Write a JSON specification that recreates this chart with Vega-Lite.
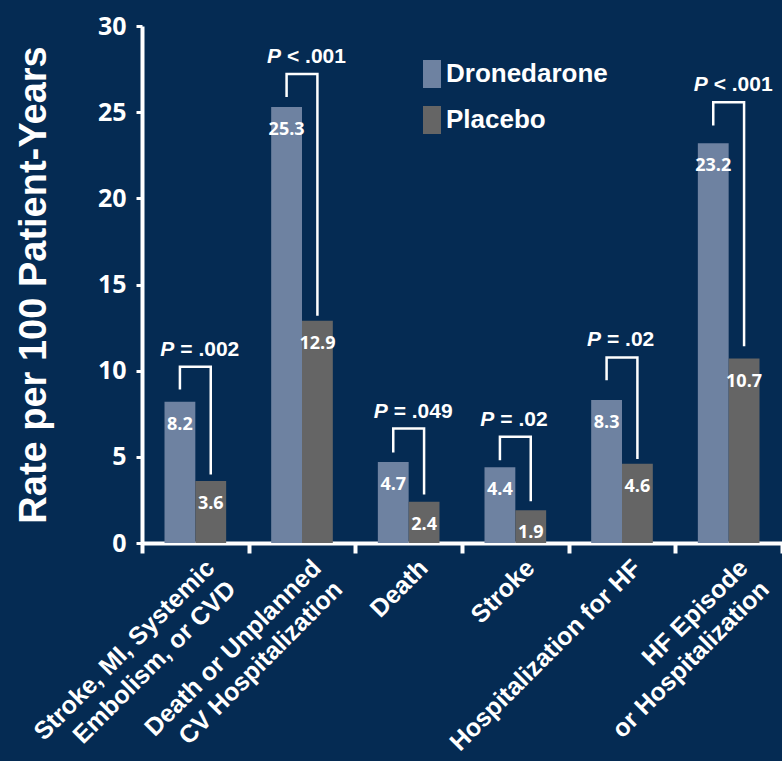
{
  "$schema": "https://vega.github.io/schema/vega-lite/v6.json",
  "width": 640,
  "height": 517,
  "autosize": "none",
  "padding": {"left": 142, "top": 26, "right": 0, "bottom": 218},
  "background": "#052B53",
  "config": {
    "view": {"stroke": null},
    "font": "Liberation Sans",
    "axisX": {
      "domainColor": "white", "domainWidth": 4,
      "tickColor": "white", "tickWidth": 4, "tickSize": 10,
      "labelAngle": -45, "labelAlign": "right", "labelBaseline": "top",
      "labelFont": "Liberation Sans", "labelFontSize": 25, "labelFontWeight": "bold",
      "labelColor": "white", "labelOffset": 6, "labelPadding": 2,
      "labelLimit": 500, "labelLineHeight": 30, "labelOverlap": false, "labelBound": false,
      "grid": false
    },
    "axisY": {
      "domainColor": "white", "domainWidth": 4,
      "tickColor": "white", "tickWidth": 3, "tickSize": 6,
      "labelFont": "Open Sans", "labelFontSize": 25, "labelFontWeight": "bold",
      "labelColor": "white", "labelPadding": 10,
      "titleFont": "Liberation Sans", "titleFontSize": 38, "titleFontWeight": "bold",
      "titleColor": "white", "titlePadding": 44,
      "grid": false
    }
  },
  "datasets": {
    "rates": [
      {"cat": "Stroke, MI, Systemic|Embolism, or CVD", "grp": "Dronedarone", "rate": 8.2},
      {"cat": "Stroke, MI, Systemic|Embolism, or CVD", "grp": "Placebo", "rate": 3.6},
      {"cat": "Death or Unplanned|CV Hospitalization", "grp": "Dronedarone", "rate": 25.3},
      {"cat": "Death or Unplanned|CV Hospitalization", "grp": "Placebo", "rate": 12.9},
      {"cat": "Death", "grp": "Dronedarone", "rate": 4.7},
      {"cat": "Death", "grp": "Placebo", "rate": 2.4},
      {"cat": "Stroke", "grp": "Dronedarone", "rate": 4.4},
      {"cat": "Stroke", "grp": "Placebo", "rate": 1.9},
      {"cat": "Hospitalization for HF", "grp": "Dronedarone", "rate": 8.3},
      {"cat": "Hospitalization for HF", "grp": "Placebo", "rate": 4.6},
      {"cat": "HF Episode|or Hospitalization", "grp": "Dronedarone", "rate": 23.2},
      {"cat": "HF Episode|or Hospitalization", "grp": "Placebo", "rate": 10.7}
    ],
    "brackets": [
      {"cat": "Stroke, MI, Systemic|Embolism, or CVD", "grp": "Dronedarone", "v": 8.9, "k": 0},
      {"cat": "Stroke, MI, Systemic|Embolism, or CVD", "grp": "Dronedarone", "v": 10.23, "k": 1},
      {"cat": "Stroke, MI, Systemic|Embolism, or CVD", "grp": "Placebo", "v": 10.23, "k": 2},
      {"cat": "Stroke, MI, Systemic|Embolism, or CVD", "grp": "Placebo", "v": 3.97, "k": 3},
      {"cat": "Death or Unplanned|CV Hospitalization", "grp": "Dronedarone", "v": 25.88, "k": 0},
      {"cat": "Death or Unplanned|CV Hospitalization", "grp": "Dronedarone", "v": 27.22, "k": 1},
      {"cat": "Death or Unplanned|CV Hospitalization", "grp": "Placebo", "v": 27.22, "k": 2},
      {"cat": "Death or Unplanned|CV Hospitalization", "grp": "Placebo", "v": 13.19, "k": 3},
      {"cat": "Death", "grp": "Dronedarone", "v": 5.25, "k": 0},
      {"cat": "Death", "grp": "Dronedarone", "v": 6.64, "k": 1},
      {"cat": "Death", "grp": "Placebo", "v": 6.64, "k": 2},
      {"cat": "Death", "grp": "Placebo", "v": 2.81, "k": 3},
      {"cat": "Stroke", "grp": "Dronedarone", "v": 4.8, "k": 0},
      {"cat": "Stroke", "grp": "Dronedarone", "v": 6.16, "k": 1},
      {"cat": "Stroke", "grp": "Placebo", "v": 6.16, "k": 2},
      {"cat": "Stroke", "grp": "Placebo", "v": 2.42, "k": 3},
      {"cat": "Hospitalization for HF", "grp": "Dronedarone", "v": 9.44, "k": 0},
      {"cat": "Hospitalization for HF", "grp": "Dronedarone", "v": 10.77, "k": 1},
      {"cat": "Hospitalization for HF", "grp": "Placebo", "v": 10.77, "k": 2},
      {"cat": "Hospitalization for HF", "grp": "Placebo", "v": 4.88, "k": 3},
      {"cat": "HF Episode|or Hospitalization", "grp": "Dronedarone", "v": 24.22, "k": 0},
      {"cat": "HF Episode|or Hospitalization", "grp": "Dronedarone", "v": 25.58, "k": 1},
      {"cat": "HF Episode|or Hospitalization", "grp": "Placebo", "v": 25.58, "k": 2},
      {"cat": "HF Episode|or Hospitalization", "grp": "Placebo", "v": 11.41, "k": 3}
    ],
    "pvalues": [
      {"cat": "Stroke, MI, Systemic|Embolism, or CVD", "rest": "= .002", "top": 10.23},
      {"cat": "Death or Unplanned|CV Hospitalization", "rest": "< .001", "top": 27.22},
      {"cat": "Death", "rest": "= .049", "top": 6.64},
      {"cat": "Stroke", "rest": "= .02", "top": 6.16},
      {"cat": "Hospitalization for HF", "rest": "= .02", "top": 10.77},
      {"cat": "HF Episode|or Hospitalization", "rest": "< .001", "top": 25.58}
    ]
  },
  "layer": [
    {
      "data": {"name": "rates"},
      "mark": {"type": "bar"},
      "encoding": {
        "x": {
          "field": "cat", "type": "nominal", "title": null,
          "scale": {
            "domain": [
              "Stroke, MI, Systemic|Embolism, or CVD",
              "Death or Unplanned|CV Hospitalization",
              "Death", "Stroke", "Hospitalization for HF",
              "HF Episode|or Hospitalization"
            ],
            "paddingInner": 0, "paddingOuter": 0
          },
          "axis": {"tickBand": "extent", "labelExpr": "datum.value ? split(datum.value, '|') : ''"}
        },
        "xOffset": {"field": "grp", "type": "nominal", "scale": {"paddingInner": 0, "paddingOuter": 0.73}},
        "y": {
          "field": "rate", "type": "quantitative", "title": "Rate per 100 Patient-Years",
          "scale": {"domain": [0, 30], "nice": false},
          "axis": {"values": [0, 5, 10, 15, 20, 25, 30]}
        },
        "color": {
          "field": "grp", "type": "nominal", "title": null,
          "scale": {"domain": ["Dronedarone", "Placebo"], "range": ["#6E82A1", "#656565"]},
          "legend": {
            "orient": "none", "legendX": 276, "legendY": 34, "padding": 0,
            "labelFont": "Liberation Sans", "labelFontSize": 26, "labelFontWeight": "bold",
            "labelColor": "white", "labelOffset": 0, "labelLimit": 400, "rowPadding": 18,
            "symbolType": "M-0.643,-1H0.643V1H-0.643Z", "symbolSize": 784,
            "symbolStrokeWidth": 0, "symbolOpacity": 1
          }
        }
      }
    },
    {
      "data": {"name": "rates"},
      "mark": {"type": "text", "color": "white", "font": "Open Sans", "fontSize": 18, "fontWeight": "bold", "baseline": "middle", "dy": 23},
      "encoding": {
        "x": {"field": "cat", "type": "nominal", "title": null},
        "xOffset": {"field": "grp", "type": "nominal"},
        "y": {"field": "rate", "type": "quantitative", "title": "Rate per 100 Patient-Years"},
        "text": {"field": "rate", "type": "quantitative", "format": ".1f"}
      }
    },
    {
      "data": {"name": "brackets"},
      "mark": {"type": "line", "color": "white", "strokeWidth": 2.5, "strokeJoin": "miter", "strokeCap": "butt"},
      "encoding": {
        "x": {"field": "cat", "type": "nominal", "title": null},
        "xOffset": {"field": "grp", "type": "nominal"},
        "y": {"field": "v", "type": "quantitative", "title": "Rate per 100 Patient-Years"},
        "detail": {"field": "cat"},
        "order": {"field": "k", "type": "quantitative"}
      }
    },
    {
      "data": {"name": "pvalues"},
      "mark": {"type": "text", "text": "P", "color": "white", "font": "Liberation Sans", "fontSize": 21, "fontWeight": "bold", "fontStyle": "italic", "align": "right", "baseline": "middle", "dx": -21, "dy": -17},
      "encoding": {
        "x": {"field": "cat", "type": "nominal", "title": null},
        "y": {"field": "top", "type": "quantitative", "title": "Rate per 100 Patient-Years"}
      }
    },
    {
      "data": {"name": "pvalues"},
      "mark": {"type": "text", "color": "white", "font": "Liberation Sans", "fontSize": 21, "fontWeight": "bold", "align": "left", "baseline": "middle", "dx": -15, "dy": -17},
      "encoding": {
        "x": {"field": "cat", "type": "nominal", "title": null},
        "y": {"field": "top", "type": "quantitative", "title": "Rate per 100 Patient-Years"},
        "text": {"field": "rest"}
      }
    }
  ]
}
